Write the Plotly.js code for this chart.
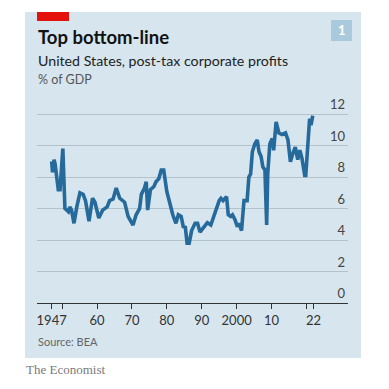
<!DOCTYPE html>
<html>
<head>
<meta charset="utf-8">
<script src="https://cdn.plot.ly/plotly-3.0.1.min.js"></script>
<style>
html,body{margin:0;padding:0;background:#ffffff;}
#chart{width:389px;height:389px;}
</style>
</head>
<body>
<div id="chart"></div>
<script>
// Data: US post-tax corporate profits, % of GDP
const years = [
  1947.0,1947.25,1947.7,1948.0,1948.9,1949.4,1950.2,1950.8,1951.8,1952.2,1952.7,1953.4,
  1954.2,1955.1,1956.0,1956.7,1957.7,1958.7,1959.4,1960.5,1961.6,1962.9,1963.6,1964.6,
  1965.5,1966.5,1967.9,1968.9,1970.3,1971.2,1972.2,1972.7,1973.6,1974.1,1974.5,1975.3,
  1976.3,1976.9,1977.7,1978.4,1979.1,1980.0,1980.9,1981.7,1982.6,1983.3,1984.1,1984.7,
  1985.3,1985.8,1986.4,1987.1,1988.1,1988.8,1989.5,1990.7,1991.6,1992.6,1994.0,1995.0,
  1995.5,1996.1,1997.1,1997.6,1998.3,1998.8,1999.5,2000.2,2000.7,2001.4,2002.1,2003.0,
  2003.5,2004.0,2004.5,2005.2,2005.9,2006.4,2007.0,2007.5,2008.1,2008.6,2008.9,2009.5,
  2010.2,2010.6,2011.3,2012.1,2013.0,2014.0,2014.7,2015.4,2016.1,2016.8,2017.5,2018.1,
  2018.7,2019.5,2019.8,2020.3,2020.9,2021.3,2021.8
];
const profits = [
  9.0,8.3,9.1,8.8,7.2,7.2,9.8,6.0,5.8,6.1,5.9,5.06,
  6.1,7.0,6.9,6.5,5.2,6.65,6.4,5.4,5.9,6.1,6.5,6.6,
  7.3,6.65,6.4,5.5,4.95,5.6,6.0,6.9,7.3,7.7,5.9,7.2,
  7.4,7.7,7.9,8.45,8.45,7.07,6.3,5.6,5.06,5.6,5.5,4.85,
  4.8,3.8,3.8,4.6,5.06,5.06,4.5,4.85,5.1,4.95,5.9,6.5,
  6.65,6.5,6.75,5.6,5.5,5.6,5.3,4.85,5.06,4.6,6.5,6.5,
  8.0,8.2,9.6,10.1,10.35,9.6,9.3,8.65,8.45,4.95,8.2,10.1,
  10.45,9.7,11.5,10.8,10.7,10.8,10.35,8.97,9.5,9.9,9.1,9.7,
  9.2,8.1,8.1,10.1,11.7,11.3,11.9
];
const xTickVals = [1947,1950,1960,1970,1980,1990,2000,2010,2020,2022];
const xTickText = ['1947','','60','70','80','90','2000','10','','22'];
const yTickVals = [0,2,4,6,8,10,12];

const W = 389, H = 389;
const M = {l:37, r:41, t:86, b:86};
const PW = W - M.l - M.r, PH = H - M.t - M.b;
const px = x => (x - M.l) / PW;
const py = y => (H - M.b - y) / PH;

const trace = {
  x: years, y: profits, type: 'scatter', mode: 'lines',
  line: {color: '#266a9c', width: 3.6, shape: 'linear'},
  hoverinfo: 'skip'
};

const layout = {
  width: W, height: H,
  margin: M,
  paper_bgcolor: '#ffffff',
  plot_bgcolor: 'rgba(0,0,0,0)',
  showlegend: false,
  font: {family: 'Lato, "Noto Sans", sans-serif', color: '#333333'},
  xaxis: {
    range: [1942.8, 2031.9],
    tickvals: xTickVals, ticktext: xTickText,
    ticks: 'outside', ticklen: 5, tickwidth: 1, tickcolor: '#333333',
    showline: true, linecolor: '#333333', linewidth: 1.3,
    showgrid: false, zeroline: false,
    tickfont: {size: 13, color: '#333333'},
    fixedrange: true
  },
  yaxis: {
    range: [0, 13.78],
    side: 'right',
    tickvals: yTickVals,
    ticklabelposition: 'inside top',
    ticks: '',
    showgrid: true, gridcolor: '#b3c2cb', gridwidth: 1,
    zeroline: false, showline: false,
    tickfont: {size: 13, color: '#444444'},
    fixedrange: true
  },
  shapes: [
    {type:'rect', xref:'paper', yref:'paper', layer:'below',
     x0: px(25), x1: px(361), y0: py(358), y1: py(12),
     fillcolor:'#d6e5ee', line:{width:0}},
    {type:'rect', xref:'paper', yref:'paper', layer:'above',
     x0: px(37), x1: px(69), y0: py(21), y1: py(12),
     fillcolor:'#e3120b', line:{width:0}},
    {type:'rect', xref:'paper', yref:'paper', layer:'above',
     x0: px(331), x1: px(352), y0: py(41), y1: py(20),
     fillcolor:'#a9c9dd', line:{width:0}}
  ],
  annotations: [
    {xref:'paper', yref:'paper', x: px(341.5), y: py(30.5), text:'<b>1</b>',
     showarrow:false, xanchor:'center', yanchor:'middle',
     font:{size:13, color:'#ffffff', family:'Lato, "Noto Sans", sans-serif'}},
    {xref:'paper', yref:'paper', x: px(36), y: py(37), text:'<b>Top bottom-line</b>',
     showarrow:false, xanchor:'left', yanchor:'middle',
     font:{size:18.5, color:'#121212', family:'Lato, "Noto Sans", sans-serif'}},
    {xref:'paper', yref:'paper', x: px(36), y: py(61), text:'United States, post-tax corporate profits',
     showarrow:false, xanchor:'left', yanchor:'middle',
     font:{size:14.2, color:'#222222', family:'Lato, "Noto Sans", sans-serif'}},
    {xref:'paper', yref:'paper', x: px(36), y: py(80), text:'% of GDP',
     showarrow:false, xanchor:'left', yanchor:'middle',
     font:{size:12.5, color:'#555555', family:'Lato, "Noto Sans", sans-serif'}},
    {xref:'paper', yref:'paper', x: px(36), y: py(341), text:'Source: BEA',
     showarrow:false, xanchor:'left', yanchor:'middle',
     font:{size:11, color:'#666666', family:'Lato, "Noto Sans", sans-serif'}},
    {xref:'paper', yref:'paper', x: px(24), y: py(369), text:'The Economist',
     showarrow:false, xanchor:'left', yanchor:'middle',
     font:{size:13, color:'#7a7a7a', family:'"Liberation Serif", "DejaVu Serif", serif'}}
  ]
};

Plotly.newPlot('chart', [trace], layout, {displayModeBar:false, staticPlot:true});
</script>
</body>
</html>
